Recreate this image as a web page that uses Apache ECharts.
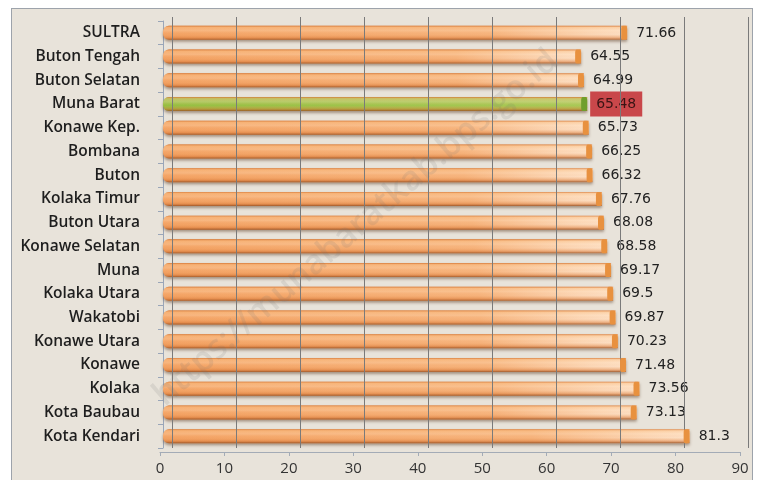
<!DOCTYPE html>
<html>
<head>
<meta charset="utf-8">
<script src="https://cdn.jsdelivr.net/npm/echarts@6/dist/echarts.min.js"></script>
<style>
  html, body { margin: 0; padding: 0; background: #ffffff; }
  #wrap { position: relative; width: 764px; height: 480px; overflow: hidden; }
  #panel {
    position: absolute; left: 11px; top: 8px; width: 740px; height: 500px;
    background: #e8e3da; border: 1px solid #9da3ab;
  }
  #chart { position: absolute; left: 0; top: 0; width: 764px; height: 480px; }
</style>
</head>
<body>
<div id="wrap">
  <div id="panel"></div>
  <div id="chart"></div>
</div>
<script>
// Regencies / cities of Southeast Sulawesi (top to bottom)
const categories = ['SULTRA', 'Buton Tengah', 'Buton Selatan', 'Muna Barat', 'Konawe Kep.', 'Bombana',
  'Buton', 'Kolaka Timur', 'Buton Utara', 'Konawe Selatan', 'Muna', 'Kolaka Utara', 'Wakatobi',
  'Konawe Utara', 'Konawe', 'Kolaka', 'Kota Baubau', 'Kota Kendari'];
const values = [71.66, 64.55, 64.99, 65.48, 65.73, 66.25, 66.32, 67.76, 68.08, 68.58, 69.17, 69.5,
  69.87, 70.23, 71.48, 73.56, 73.13, 81.3];
const highlighted = 'Muna Barat';
const axisMin = 0, axisMax = 90, axisStep = 10;
const wallTicks = [0, 10, 20, 30, 40, 50, 60, 70, 80, 90];

const chart = echarts.init(document.getElementById('chart'));

const orangeBody = new echarts.graphic.LinearGradient(0, 0, 1, 0, [
  { offset: 0, color: '#f3a263' },
  { offset: 0.7, color: '#f6b47e' },
  { offset: 0.92, color: '#fcdcbf' },
  { offset: 1, color: '#fde6d0' }
]);
const greenBody = new echarts.graphic.LinearGradient(0, 0, 1, 0, [
  { offset: 0, color: '#8ac23e' },
  { offset: 1, color: '#9fce55' }
]);
// cylinder shading laid over each bar
const shade = new echarts.graphic.LinearGradient(0, 0, 0, 1, [
  { offset: 0, color: 'rgba(210,115,50,0.9)' },
  { offset: 0.12, color: 'rgba(250,190,130,0.5)' },
  { offset: 0.35, color: 'rgba(255,215,175,0.35)' },
  { offset: 0.6, color: 'rgba(245,165,100,0.1)' },
  { offset: 0.85, color: 'rgba(215,120,55,0.5)' },
  { offset: 1, color: 'rgba(150,80,35,0.9)' }
]);

const baseData = values.map((v, i) => {
  const hi = categories[i] === highlighted;
  return {
    value: v,
    itemStyle: { color: hi ? greenBody : orangeBody },
    label: hi ? {
      backgroundColor: '#c9474a',
      color: '#3a1414',
      padding: [6, 6, 5, 6],
      distance: 3
    } : undefined
  };
});
const capData = values.map((v, i) => ({
  value: v,
  itemStyle: { color: categories[i] === highlighted ? '#6f9f2c' : '#e8913f' }
}));

const gridLineStyle = { color: '#7a7a7a', width: 1, type: 'solid', opacity: 1 };

chart.setOption({
  animation: false,
  backgroundColor: 'transparent',
  graphic: [
    {
      type: 'text', z: 20, silent: true,
      x: 356, y: 228, rotation: Math.PI * 41 / 180,
      style: {
        text: 'https://munabaratkab.bps.go.id',
        font: '600 34px "Open Sans", sans-serif',
        fill: 'rgba(110,110,110,0.14)',
        align: 'center', verticalAlign: 'middle'
      }
    }
  ],
  grid: [
    { left: 163, width: 583, top: 21, height: 427 },   // bars
    { left: 172, width: 576, top: 17, height: 431 },   // back wall
    { left: 160, width: 580, top: 30, height: 422 }    // floor / front axis
  ],
  xAxis: [
    { gridIndex: 0, type: 'value', min: axisMin, max: axisMax, interval: axisStep, show: false },
    { gridIndex: 1, type: 'value', min: axisMin, max: axisMax, interval: axisStep, show: false },
    {
      gridIndex: 2, type: 'value', min: axisMin, max: axisMax, interval: axisStep,
      axisLine: { show: true, lineStyle: { color: '#a3abb6' } },
      axisTick: { show: true, length: 4, lineStyle: { color: '#a3abb6' } },
      splitLine: { show: false },
      axisLabel: { margin: 9, color: '#333333', fontSize: 15, fontFamily: '"Open Sans", sans-serif' }
    }
  ],
  yAxis: [
    {
      gridIndex: 0, type: 'category', data: categories, inverse: true,
      axisLine: { show: true, lineStyle: { color: '#9aa6b8' } },
      axisTick: { show: true, length: 5, lineStyle: { color: '#9aa6b8' } },
      axisLabel: {
        margin: 23, color: '#1e1e1e', fontSize: 15.5, fontWeight: 600,
        fontFamily: '"Open Sans", sans-serif'
      }
    },
    { gridIndex: 1, type: 'value', min: 0, max: 1, show: false },
    { gridIndex: 2, type: 'value', show: false }
  ],
  series: [
    {
      // back-wall gridlines
      type: 'scatter', xAxisIndex: 1, yAxisIndex: 1, z: 1, silent: true,
      itemStyle: { color: '#7a7a7a' },
      data: [],
      markLine: {
        silent: true, symbol: 'none', animation: false,
        label: { show: false },
        lineStyle: gridLineStyle,
        emphasis: { disabled: true },
        data: wallTicks.map(t => ({ xAxis: t, lineStyle: gridLineStyle }))
      }
    },
    {
      type: 'bar', xAxisIndex: 0, yAxisIndex: 0, z: 3,
      barWidth: 14,
      data: baseData,
      itemStyle: {
        borderRadius: [6, 0, 0, 6],
        shadowColor: 'rgba(80,45,20,0.45)', shadowBlur: 3, shadowOffsetY: 2
      },
      label: {
        show: true, position: 'right', distance: 9,
        color: '#222222', fontSize: 14,
        fontFamily: '"DejaVu Sans", sans-serif'
      }
    },
    {
      type: 'bar', xAxisIndex: 0, yAxisIndex: 0, z: 4, silent: true,
      barWidth: 14, barGap: '-100%',
      data: values,
      itemStyle: { color: shade, borderRadius: [6, 0, 0, 6] }
    },
    {
      type: 'pictorialBar', xAxisIndex: 0, yAxisIndex: 0, z: 5, silent: true,
      symbol: 'roundRect', symbolSize: [6, 14], symbolPosition: 'end',
      data: capData
    }
  ]
});
</script>
</body>
</html>
